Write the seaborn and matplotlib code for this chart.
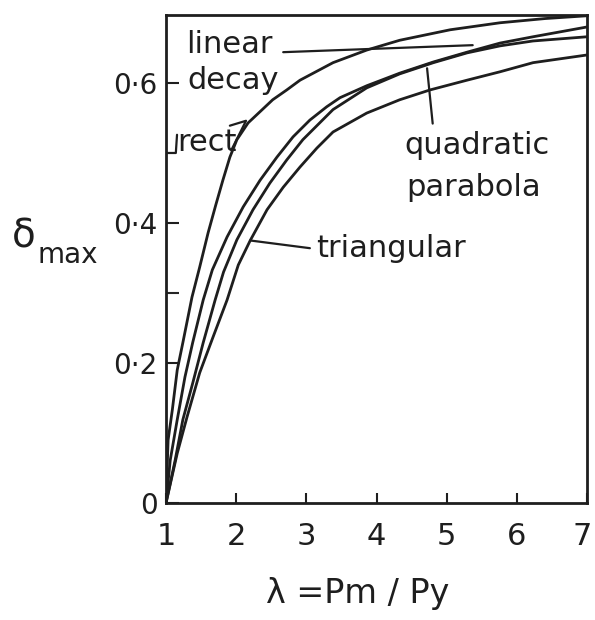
import numpy as np
import pandas as pd
import matplotlib
matplotlib.use("Agg")
import matplotlib.pyplot as plt
import matplotlib.transforms as mtransforms
import seaborn as sns

# Maximum response delta_max against load ratio lambda = Pm/Py for four pulse shapes
rect_x = [1.0, 1.03, 1.09, 1.16, 1.24, 1.37, 1.48, 1.60, 1.71, 1.81, 1.91, 2.01, 2.17,
          2.34, 2.52, 2.72, 2.91, 3.38, 3.86, 4.33, 5.05, 5.76, 6.4, 7.0]
rect_y = [0.0, 0.09, 0.133, 0.19, 0.229, 0.294, 0.337, 0.386, 0.426, 0.461, 0.494, 0.519, 0.543,
          0.559, 0.576, 0.59, 0.604, 0.629, 0.647, 0.661, 0.676, 0.686, 0.692, 0.696]

linear_x = [1.0, 1.06, 1.16, 1.27, 1.38, 1.53, 1.66, 1.87, 2.10, 2.34, 2.58, 2.81, 3.05,
            3.29, 3.48, 3.86, 4.33, 4.81, 5.29, 5.76, 6.23, 7.0]
linear_y = [0.0, 0.061, 0.119, 0.18, 0.229, 0.29, 0.333, 0.38, 0.423, 0.461, 0.494, 0.523, 0.547,
            0.566, 0.579, 0.596, 0.614, 0.63, 0.644, 0.657, 0.666, 0.68]

quad_x = [1.0, 1.13, 1.24, 1.38, 1.53, 1.70, 1.82, 2.01, 2.24, 2.48, 2.72, 2.95, 3.19,
          3.38, 3.86, 4.33, 4.81, 5.29, 5.76, 6.23, 7.0]
quad_y = [0.0, 0.061, 0.119, 0.171, 0.229, 0.29, 0.33, 0.376, 0.419, 0.457, 0.49, 0.519, 0.543,
          0.562, 0.593, 0.613, 0.629, 0.643, 0.653, 0.66, 0.666]

tri_x = [1.0, 1.16, 1.30, 1.48, 1.67, 1.87, 2.03, 2.20, 2.44, 2.67, 2.91, 3.15, 3.38,
         3.86, 4.33, 4.76, 5.29, 5.76, 6.23, 7.0]
tri_y = [0.0, 0.071, 0.123, 0.186, 0.237, 0.29, 0.34, 0.375, 0.419, 0.451, 0.48, 0.507, 0.53,
         0.557, 0.576, 0.59, 0.604, 0.616, 0.629, 0.64]

x_ticks = [1, 2, 3, 4, 5, 6, 7]
y_ticks = [0.0, 0.2, 0.4, 0.6]
y_tick_labels = ["0", "0·2", "0·4", "0·6"]

frames = []
for name, xs, ys in [("rect", rect_x, rect_y), ("linear decay", linear_x, linear_y),
                     ("quadratic parabola", quad_x, quad_y), ("triangular", tri_x, tri_y)]:
    frames.append(pd.DataFrame({"lam": xs, "delta": ys, "shape": name}))
df = pd.concat(frames, ignore_index=True)

sns.set_style("ticks")
plt.rcParams["font.family"] = ["DejaVu Sans"]

ink = "#1e1e1e"
fig = plt.figure(figsize=(5.95, 6.2), dpi=100)
ax = fig.add_axes([0.279, 0.1887, 0.7077, 0.787])

sns.lineplot(data=df, x="lam", y="delta", hue="shape", estimator=None, sort=False,
             palette=[ink] * 4, linewidth=2.0, legend=False, ax=ax)
for ln in ax.lines:
    ln.set_solid_joinstyle("round")

ax.set_xlim(1, 7)
ax.set_ylim(0, 0.697)
ax.set_xlabel("")
ax.set_ylabel("")

for s in ax.spines.values():
    s.set_linewidth(2.0)
    s.set_color(ink)

ax.set_xticks(x_ticks)
ax.set_xticklabels([str(v) for v in x_ticks])
ax.set_yticks(y_ticks)
ax.set_yticklabels(y_tick_labels)
ax.set_yticks([0.3], minor=True)
ax.tick_params(axis="x", direction="in", length=7, width=1.5, pad=14, labelsize=22, colors=ink)
ax.tick_params(axis="y", direction="in", length=9, width=1.5, pad=6, labelsize=20, colors=ink)
ax.tick_params(axis="y", which="minor", direction="in", length=9, width=1.5)

# nudge the last x tick label inward so it stays inside the canvas
last = ax.get_xticklabels()[-1]
last.set_transform(last.get_transform() + mtransforms.ScaledTranslation(-5 / 100, 0, fig.dpi_scale_trans))

txt = dict(color=ink, fontsize=22, va="center", ha="left")
ax.text(1.29, 0.655, "linear", **txt)
ax.text(1.30, 0.603, "decay", **txt)
ax.text(1.16, 0.515, "rect", **txt)
ax.text(4.40, 0.510, "quadratic", **txt)
ax.text(4.42, 0.450, "parabola", **txt)
ax.text(3.14, 0.364, "triangular", **txt)

lk = dict(color=ink, linewidth=1.6)
ax.plot([2.67, 5.37], [0.644, 0.654], **lk)
ax.plot([4.72, 4.80], [0.621, 0.542], **lk)
ax.plot([2.20, 3.05], [0.375, 0.364], **lk)
ax.plot([1.0, 1.14, 1.157], [0.5, 0.5, 0.526], **lk)
ax.plot([1.91, 2.14, 1.93], [0.539, 0.546, 0.504], **lk)

fig.text(24 / 595, 1 - 236 / 620, "δ", fontsize=28, color=ink, ha="center", va="center")
fig.text(68 / 595, 1 - 255 / 620, "max", fontsize=20, color=ink, ha="center", va="center")
fig.text(358 / 595, 1 - 594 / 620, "λ =Pm / Py", fontsize=24, color=ink, ha="center", va="center")

fig.savefig("out.png", dpi=100, facecolor="white")
